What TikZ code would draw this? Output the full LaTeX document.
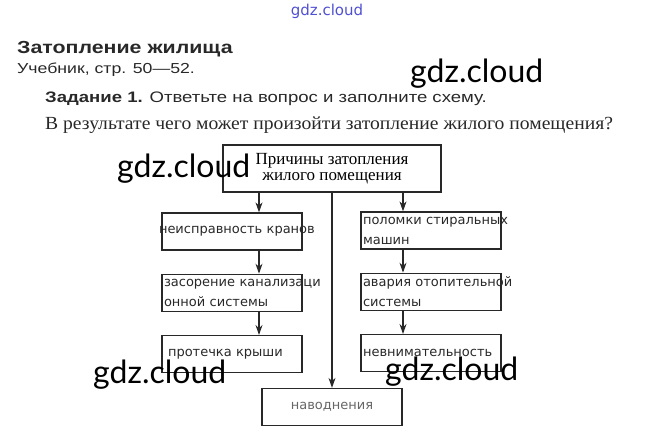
\documentclass[tikz,border=0pt]{standalone}
\usepackage{fontspec}
\setmainfont{Liberation Serif}
\newfontfamily\headfont[FakeStretch=1.22]{Liberation Sans}
\newfontfamily\askfont[FakeStretch=1.06]{Liberation Serif}
\newfontfamily\boxfont{DejaVu Sans}
\newfontfamily\markfont{Lato}
\usetikzlibrary{positioning, arrows.meta}
\definecolor{inkgray}{RGB}{40,40,40}
\definecolor{markblue}{RGB}{80,80,210}
\tikzstyle{arrow} = [line width=1.1pt, draw=inkgray, -{Stealth[length=10pt,width=7pt]}]
\tikzstyle{causebox} = [rectangle, draw=inkgray, line width=1.3pt, minimum width=140pt, minimum height=37pt, text width=136pt, inner xsep=2pt, align=left, text=inkgray, font=\boxfont\fontsize{13}{20}\selectfont]
\tikzstyle{headbox} = [rectangle, draw=inkgray, line width=1.3pt, minimum width=218pt, minimum height=47pt, align=center, font=\fontsize{17}{16}\selectfont]
\tikzstyle{heading} = [anchor=base west, inner sep=0pt, text=inkgray]
\tikzstyle{watermark} = [anchor=base west, inner sep=0pt, font=\markfont\fontsize{32}{32}\selectfont]

\begin{document}
\begin{tikzpicture}[x=1pt, y=-1pt, node distance=23pt]
        \useasboundingbox (0,0) rectangle (653,437);

        % page header
        \node (brand) [anchor=center, inner sep=0pt, text=markblue, font=\boxfont\fontsize{15}{15}\selectfont] at (327,11) {gdz.cloud};
        \node (topic) [heading, font=\headfont\bfseries\fontsize{17.5}{17.5}\selectfont] at (17,53) {Затопление жилища};
        \node (book) [heading, font=\headfont\fontsize{14.5}{14.5}\selectfont] at (17,73) {Учебник, стр. 50—52.};
        \node (task) [heading, font=\headfont\fontsize{15.2}{15.2}\selectfont] at (45,102) {\textbf{Задание 1.} Ответьте на вопрос и заполните схему.};
        \node (question) [heading, font=\askfont\fontsize{18.5}{18.5}\selectfont] at (45,129) {В результате чего может произойти затопление жилого помещения?};

        % scheme
        \node (cause) [headbox] at (332,168.5) {Причины затопления\\жилого помещения};
        \node (tap) [causebox] at (232,231.5) {\hspace*{-5pt}\mbox{неисправность кранов}};
        \node (sewer) [causebox, below=of tap] {\mbox{засорение канализаци}\\онной системы};
        \node (roof) [causebox, below=of sewer] {\hspace*{4pt}протечка крыши};
        \node (washer) [causebox] at (431,230.5) {\mbox{поломки стиральных}\\машин};
        \node (heating) [causebox, below=of washer] {\mbox{авария отопительной}\\системы};
        \node (care) [causebox, below=of heating] {невнимательность};
        \node (flood) [causebox, align=center, text=black!60] at (332,407) {наводнения};

        \coordinate (leftlane) at (259,0);
        \coordinate (rightlane) at (403,0);

        \draw [arrow] (leftlane |- cause.south) -- (leftlane |- tap.north);
        \draw [arrow] (leftlane |- tap.south) -- (leftlane |- sewer.north);
        \draw [arrow] (leftlane |- sewer.south) -- (leftlane |- roof.north);
        \draw [arrow] (rightlane |- cause.south) -- (rightlane |- washer.north);
        \draw [arrow] (rightlane |- washer.south) -- (rightlane |- heating.north);
        \draw [arrow] (rightlane |- heating.south) -- (rightlane |- care.north);
        \draw [arrow] (cause.south) -- (flood.north);

        % watermarks
        \node (markA) [watermark] at (410,82) {gdz.cloud};
        \node (markB) [watermark] at (117,177) {gdz.cloud};
        \node (markC) [watermark] at (93,383) {gdz.cloud};
        \node (markD) [watermark] at (385,380) {gdz.cloud};
\end{tikzpicture}
\end{document}
